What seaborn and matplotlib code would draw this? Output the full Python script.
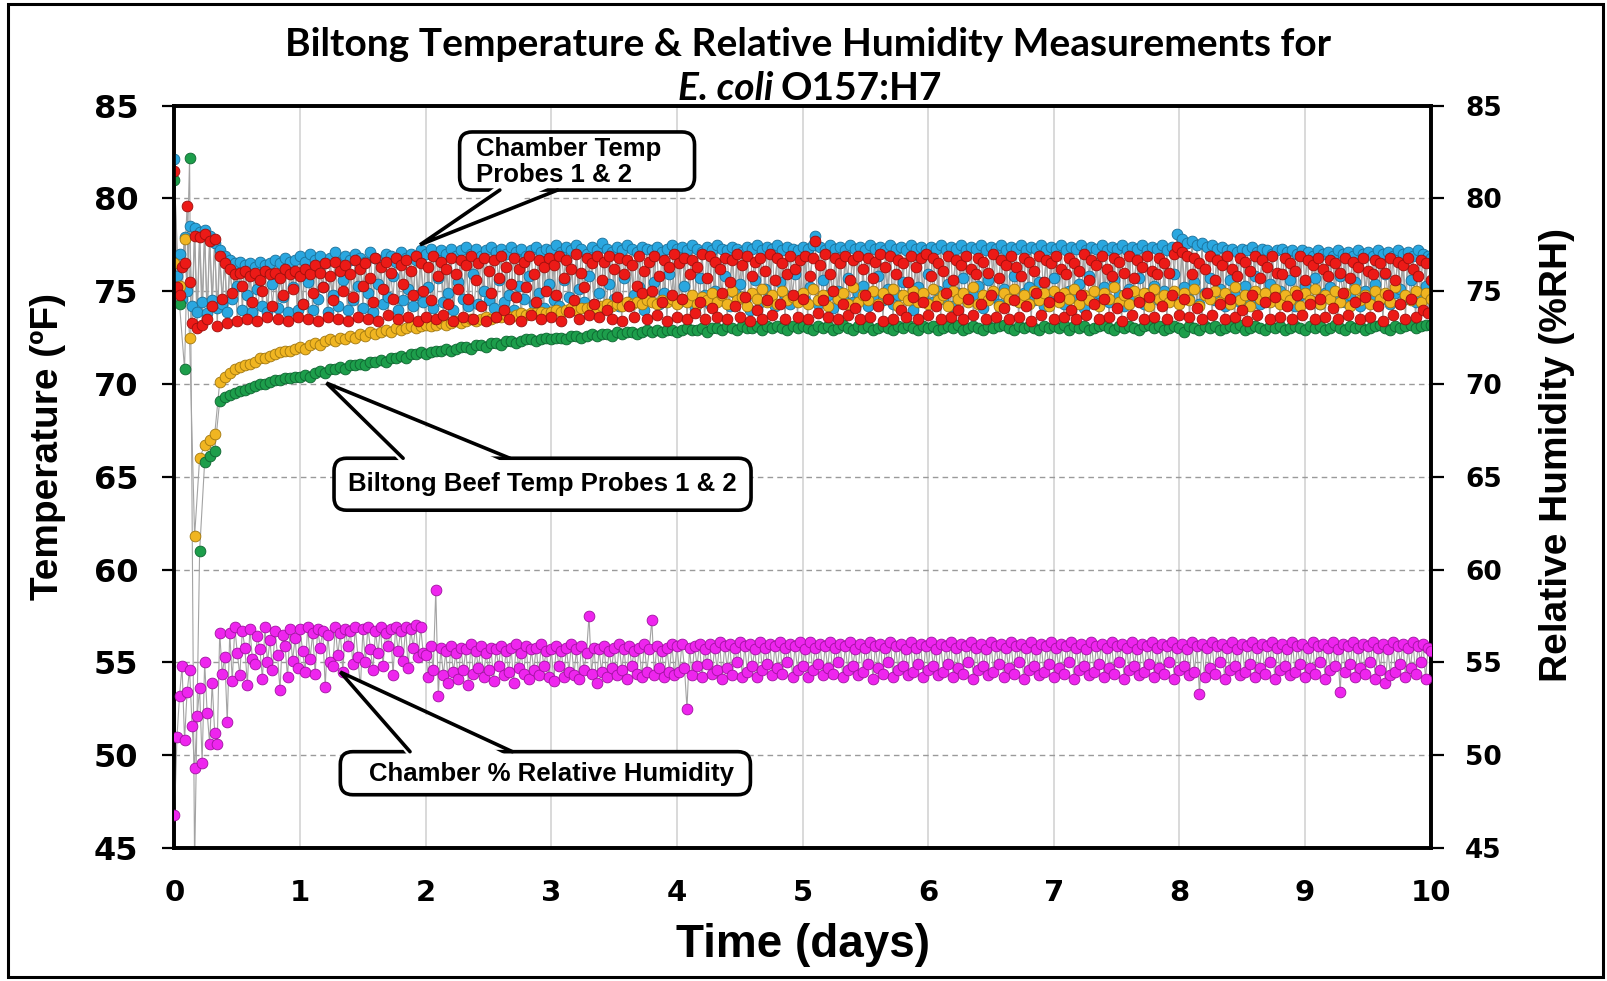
"""Biltong chamber/beef temperature and relative humidity over 10 days."""

import matplotlib

matplotlib.use("Agg")

import matplotlib.pyplot as plt  # noqa: E402
import numpy as np  # noqa: E402
import seaborn as sns  # noqa: E402
from matplotlib.lines import Line2D  # noqa: E402
from matplotlib.patches import FancyBboxPatch, Polygon, Rectangle  # noqa: E402

STEP_CHAMBER = 0.02
STEP_BEEF = 0.04

# Chamber temperature probe 1 (degF), one row = 0.2 day
chamber_probe_1 = [
    82.1, 75.8, 77.0, 74.6, 77.9, 75.0, 78.5, 74.2, 78.4, 73.9,
    78.2, 74.4, 78.3, 73.8, 78.0, 74.5, 77.6, 74.1, 77.2, 74.3,
    76.9, 73.9, 76.7, 74.6, 76.5, 75.3, 76.6, 74.0, 76.4, 74.8,
    76.5, 73.9, 76.3, 75.1, 76.6, 74.2, 76.4, 73.9, 76.5, 75.4,
    76.7, 74.1, 76.5, 74.7, 76.8, 73.9, 76.6, 75.2, 76.7, 74.0,
    76.9, 74.3, 76.6, 75.5, 77.0, 74.0, 76.7, 74.6, 76.9, 75.2,
    76.5, 73.9, 76.8, 74.8, 77.1, 74.2, 76.6, 75.6, 76.9, 74.0,
    76.7, 74.5, 77.0, 75.3, 76.8, 74.1, 76.6, 74.9, 77.1, 73.9,
    76.8, 75.4, 76.7, 74.3, 77.0, 74.7, 76.9, 75.8, 76.6, 74.0,
    77.1, 74.5, 76.8, 75.1, 77.0, 74.2, 76.7, 74.8, 77.2, 74.4,
    77.0, 75.2, 77.3, 74.1, 76.9, 75.7, 77.2, 74.4, 77.0, 74.9,
    77.3, 74.0, 76.9, 75.5, 77.2, 74.6, 77.4, 74.2, 77.0, 75.9,
    77.3, 74.3, 76.9, 75.0, 77.2, 74.5, 77.4, 74.1, 77.1, 75.6,
    77.3, 74.4, 77.0, 74.8, 77.4, 74.0, 77.1, 75.3, 77.3, 74.6,
    76.9, 75.8, 77.2, 74.3, 77.4, 74.9, 77.1, 74.1, 77.3, 75.4,
    77.2, 74.5, 77.5, 74.2, 77.1, 75.6, 77.4, 74.7, 77.2, 74.0,
    77.5, 75.1, 77.3, 74.4, 77.0, 75.8, 77.4, 74.3, 77.2, 74.9,
    77.6, 74.1, 77.3, 75.4, 77.1, 74.6, 77.4, 74.2, 77.2, 75.7,
    77.5, 74.4, 77.3, 74.8, 77.1, 75.2, 77.4, 74.0, 77.3, 74.7,
    77.2, 75.5, 77.4, 74.3, 77.1, 74.9, 77.3, 75.9, 77.5, 74.5,
    77.3, 74.4, 77.4, 75.3, 77.2, 74.6, 77.5, 74.1, 77.3, 75.7,
    77.1, 74.8, 77.4, 74.3, 77.2, 75.0, 77.5, 74.5, 77.3, 75.8,
    77.2, 74.2, 77.4, 74.9, 77.3, 75.4, 77.1, 74.6, 77.4, 74.0,
    77.3, 75.6, 77.5, 74.4, 77.2, 75.1, 77.4, 74.7, 77.3, 74.2,
    77.5, 75.5, 77.2, 74.8, 77.4, 74.3, 77.3, 75.9, 77.2, 74.6,
    77.4, 74.5, 77.3, 75.2, 77.5, 78.0, 74.3, 77.4, 75.6, 77.2,
    74.8, 77.5, 74.1, 77.3, 75.0, 77.4, 74.6, 77.2, 75.7, 77.5,
    74.4, 77.3, 74.9, 77.4, 75.3, 77.2, 74.2, 77.5, 74.7, 77.3,
    75.8, 77.4, 74.5, 77.2, 75.1, 77.5, 74.3, 77.3, 74.8, 77.4,
    75.5, 77.2, 74.6, 77.5, 74.0, 77.3, 75.2, 77.4, 74.7, 77.2,
    75.9, 77.4, 74.4, 77.3, 75.0, 77.5, 74.6, 77.2, 75.4, 77.4,
    74.2, 77.3, 74.9, 77.5, 75.7, 77.2, 74.5, 77.4, 74.8, 77.3,
    75.3, 77.5, 74.1, 77.2, 75.6, 77.4, 74.7, 77.3, 74.3, 77.5,
    75.1, 77.2, 74.6, 77.4, 75.8, 77.3, 74.4, 77.5, 74.9, 77.2,
    75.2, 77.4, 74.5, 77.3, 75.5, 77.5, 74.2, 77.2, 74.8, 77.4,
    75.7, 77.3, 74.6, 77.5, 74.3, 77.2, 75.0, 77.4, 74.7, 77.3,
    75.4, 77.5, 74.1, 77.2, 75.8, 77.4, 74.5, 77.3, 74.9, 77.5,
    75.2, 77.2, 74.4, 77.4, 75.6, 77.3, 74.8, 77.5, 74.2, 77.2,
    75.1, 77.4, 74.6, 77.3, 75.7, 77.5, 74.3, 77.2, 74.9, 77.4,
    75.3, 77.3, 74.5, 77.5, 75.0, 77.2, 74.7, 77.4, 75.9, 78.1,
    74.4, 77.8, 75.2, 77.6, 74.6, 77.7, 75.5, 77.5, 74.3, 77.6,
    74.9, 77.4, 75.7, 77.5, 74.5, 77.3, 75.1, 77.4, 74.2, 77.2,
    75.6, 77.3, 74.8, 77.1, 74.4, 77.3, 75.3, 77.2, 74.6, 77.4,
    75.8, 77.1, 74.3, 77.3, 74.9, 77.2, 75.4, 77.0, 74.5, 77.2,
    75.0, 77.3, 74.7, 77.1, 75.6, 77.2, 74.2, 77.0, 74.8, 77.2,
    75.3, 77.1, 74.5, 76.9, 75.7, 77.2, 74.3, 77.0, 74.9, 77.1,
    75.2, 76.9, 74.6, 77.2, 75.8, 77.0, 74.4, 77.1, 74.8, 76.9,
    75.5, 77.2, 74.2, 77.0, 75.0, 77.1, 74.7, 76.9, 75.4, 77.2,
    74.5, 77.0, 75.9, 77.1, 74.3, 76.9, 74.9, 77.2, 75.1, 77.0,
    74.6, 77.1, 75.6, 76.9, 74.4, 77.2, 74.8, 77.0, 75.3, 76.9,
    76.8,
]

# Chamber temperature probe 2 (degF), one row = 0.2 day
chamber_probe_2 = [
    81.5, 75.2, 74.8, 76.3, 76.5, 79.6, 75.5, 73.3, 78.0, 73.0,
    77.9, 73.2, 78.1, 73.5, 77.7, 74.2, 77.8, 73.1, 76.9, 74.6,
    76.5, 73.3, 76.2, 74.9, 75.9, 73.4, 76.0, 75.3, 76.1, 73.5,
    75.8, 74.4, 76.0, 73.4, 75.6, 75.0, 76.1, 73.6, 75.9, 74.2,
    76.0, 73.5, 75.7, 74.8, 76.2, 73.4, 75.9, 75.1, 76.1, 73.6,
    75.8, 74.3, 76.2, 73.5, 75.9, 74.9, 76.4, 73.4, 76.0, 75.2,
    76.5, 73.6, 75.8, 74.5, 76.6, 73.5, 76.1, 75.0, 76.4, 73.4,
    75.9, 74.7, 76.7, 73.6, 76.2, 75.3, 76.5, 73.5, 75.7, 74.4,
    76.8, 73.4, 76.3, 75.1, 76.6, 73.7, 76.0, 74.6, 76.8, 73.5,
    76.4, 75.4, 76.7, 73.6, 76.1, 74.8, 76.9, 73.4, 76.5, 75.0,
    73.6, 76.3, 74.5, 76.9, 73.5, 75.8, 76.6, 73.7, 76.2, 74.3,
    76.8, 73.4, 75.9, 75.1, 76.7, 73.6, 76.4, 74.6, 76.9, 73.5,
    75.6, 76.5, 74.2, 76.8, 73.4, 76.1, 74.9, 76.7, 73.6, 75.7,
    76.9, 74.0, 76.3, 73.5, 75.4, 76.8, 74.7, 76.2, 73.4, 76.6,
    75.2, 76.9, 73.7, 75.9, 74.4, 76.7, 73.5, 76.3, 75.0, 76.8,
    73.6, 76.4, 74.8, 76.9, 73.4, 75.7, 76.7, 73.9, 76.2, 74.5,
    77.0, 73.5, 76.0, 75.2, 76.8, 73.7, 76.5, 74.3, 76.9, 73.6,
    75.6, 76.6, 74.0, 76.9, 73.5, 76.2, 74.7, 76.8, 73.4, 75.9,
    76.7, 74.2, 76.4, 73.6, 75.3, 76.9, 74.9, 76.1, 73.5, 76.6,
    75.0, 76.9, 73.7, 75.8, 74.4, 76.7, 73.4, 76.3, 74.8, 77.0,
    73.6, 76.5, 74.6, 76.8, 73.5, 75.9, 76.7, 73.8, 76.3, 74.4,
    77.0, 73.5, 75.7, 76.9, 74.1, 76.6, 73.6, 76.2, 74.9, 76.8,
    73.5, 75.5, 76.7, 74.2, 77.0, 73.6, 76.4, 74.7, 76.9, 73.4,
    75.8, 76.6, 74.0, 76.8, 73.5, 76.1, 74.5, 77.0, 73.7, 75.6,
    76.8, 74.3, 76.5, 73.5, 75.9, 76.9, 74.8, 76.2, 73.6, 76.7,
    74.6, 76.9, 73.5, 75.8, 76.8, 77.7, 73.8, 76.4, 74.5, 77.0,
    73.6, 75.9, 75.0, 76.8, 73.5, 76.5, 74.3, 76.9, 73.7, 75.6,
    76.7, 74.1, 76.9, 73.5, 76.2, 74.8, 76.8, 73.6, 75.7, 76.6,
    74.2, 77.0, 73.4, 76.3, 74.6, 76.9, 73.5, 75.9, 76.7, 74.0,
    76.5, 73.6, 75.5, 76.9, 74.7, 76.3, 73.5, 76.8, 74.4, 77.0,
    73.7, 75.8, 76.8, 74.2, 76.5, 73.5, 76.1, 74.9, 76.9, 73.6,
    75.6, 76.7, 74.0, 76.4, 73.5, 76.9, 74.6, 76.2, 73.7, 75.9,
    76.8, 74.3, 76.6, 73.5, 76.0, 74.8, 77.0, 73.6, 75.7, 76.7,
    74.1, 76.4, 73.5, 76.9, 74.5, 76.3, 73.6, 75.8, 76.8, 74.2,
    76.6, 73.4, 76.1, 74.9, 76.9, 73.7, 75.5, 76.7, 74.4, 76.5,
    73.5, 76.9, 74.7, 76.2, 73.6, 75.9, 76.8, 74.0, 76.5, 73.5,
    76.1, 74.8, 77.0, 73.7, 75.6, 76.7, 74.3, 76.4, 73.5, 76.9,
    74.6, 76.2, 73.6, 75.8, 76.8, 74.1, 76.6, 73.4, 76.0, 74.9,
    76.9, 73.7, 75.7, 76.7, 74.4, 76.3, 73.5, 76.9, 74.7, 76.1,
    73.6, 75.9, 76.8, 74.2, 76.5, 73.5, 76.0, 74.8, 77.0, 77.4,
    73.7, 77.1, 74.6, 76.9, 73.6, 75.9, 76.8, 74.1, 76.5, 73.5,
    76.2, 74.9, 76.9, 73.7, 75.6, 76.7, 74.3, 76.4, 73.5, 76.9,
    74.6, 76.2, 73.6, 75.8, 76.8, 74.0, 76.6, 73.4, 76.1, 74.8,
    76.9, 73.7, 75.7, 76.7, 74.4, 76.3, 73.5, 76.9, 74.7, 76.0,
    73.6, 75.9, 76.8, 74.2, 76.5, 73.5, 76.1, 74.8, 76.9, 73.7,
    75.6, 76.7, 74.3, 76.4, 73.5, 76.8, 74.6, 76.2, 73.6, 75.8,
    76.7, 74.1, 76.5, 73.5, 76.0, 74.9, 76.8, 73.7, 75.7, 76.6,
    74.4, 76.3, 73.5, 76.8, 74.7, 76.1, 73.6, 75.9, 76.7, 74.2,
    76.5, 73.4, 76.0, 74.8, 76.8, 73.7, 75.6, 76.6, 74.3, 76.4,
    73.5, 76.8, 74.6, 76.2, 73.6, 75.8, 76.7, 74.0, 76.5, 73.8,
    75.6,
]

# Biltong beef temperature probe 1 (degF), one row = 1 day
beef_probe_1 = [
    76.5, 75.3, 77.8, 72.5, 61.8, 66.0, 66.7, 67.0, 67.3, 70.1, 70.4, 70.6, 70.8, 70.9, 71.0, 71.1, 71.2, 71.4, 71.4, 71.5, 71.6, 71.7, 71.8, 71.8, 71.9,
    72.0, 71.9, 72.1, 72.2, 72.1, 72.3, 72.4, 72.3, 72.5, 72.4, 72.6, 72.5, 72.7, 72.6, 72.8, 72.7, 72.8, 72.9, 72.8, 73.0, 72.9, 73.0, 73.1, 73.0, 73.1,
    73.2, 73.1, 73.2, 73.3, 73.2, 73.3, 73.4, 73.3, 73.4, 73.5, 73.4, 73.5, 73.6, 73.5, 73.6, 73.6, 73.7, 73.6, 73.7, 73.8, 73.7, 73.8, 73.8, 73.9, 73.8,
    73.9, 74.0, 73.9, 74.0, 74.1, 74.0, 74.1, 74.1, 74.2, 74.1, 74.2, 74.3, 74.2, 74.3, 74.2, 74.4, 74.3, 74.4, 74.3, 74.5, 74.4, 74.3, 74.5, 74.4, 74.6,
    74.3, 74.6, 74.4, 74.8, 74.3, 74.7, 74.5, 74.9, 74.4, 74.8, 74.3, 75.0, 74.5, 74.7, 74.2, 74.9, 74.6, 75.1, 74.4, 74.8, 74.3, 75.0, 74.5, 74.7, 74.4,
    74.9, 74.3, 75.1, 74.5, 74.8, 74.2, 75.0, 74.6, 74.9, 74.3, 75.2, 74.4, 74.8, 74.5, 75.0, 74.3, 74.9, 74.6, 75.1, 74.2, 74.8, 74.5, 75.0, 74.4, 74.9,
    74.3, 75.1, 74.5, 74.8, 74.2, 75.0, 74.6, 74.9, 74.4, 75.2, 74.3, 74.8, 74.5, 75.0, 74.2, 74.9, 74.6, 75.1, 74.4, 74.8, 74.3, 75.0, 74.5, 74.9, 74.2,
    75.0, 74.4, 74.9, 74.6, 75.1, 74.3, 74.8, 74.5, 75.0, 74.2, 74.9, 74.6, 75.2, 74.4, 74.8, 74.3, 75.0, 74.5, 74.9, 74.2, 75.1, 74.6, 74.8, 74.4, 75.0,
    74.3, 74.9, 74.5, 75.1, 74.2, 74.8, 74.6, 75.0, 74.4, 74.9, 74.3, 75.2, 74.5, 74.8, 74.2, 75.0, 74.6, 74.9, 74.4, 75.1, 74.3, 74.8, 74.5, 75.0, 74.2,
    74.9, 74.5, 75.1, 74.3, 74.8, 74.6, 75.0, 74.4, 74.9, 74.2, 75.1, 74.5, 74.8, 74.3, 75.0, 74.6, 74.9, 74.4, 75.2, 74.3, 74.8, 74.5, 75.0, 74.4, 74.9,
    74.6,
]

# Biltong beef temperature probe 2 (degF), one row = 1 day
beef_probe_2 = [
    81.0, 74.3, 70.8, 82.2, 44.0, 61.0, 65.8, 66.1, 66.4, 69.1, 69.3, 69.4, 69.5, 69.6, 69.7, 69.8, 69.9, 70.0, 70.0, 70.1, 70.2, 70.2, 70.3, 70.3, 70.4,
    70.4, 70.5, 70.4, 70.6, 70.7, 70.6, 70.8, 70.8, 70.9, 70.8, 71.0, 71.0, 71.1, 71.0, 71.2, 71.2, 71.3, 71.2, 71.4, 71.4, 71.5, 71.4, 71.6, 71.6, 71.7,
    71.6, 71.7, 71.8, 71.8, 71.9, 71.8, 71.9, 72.0, 72.0, 71.9, 72.1, 72.1, 72.0, 72.2, 72.2, 72.1, 72.3, 72.3, 72.2, 72.3, 72.4, 72.4, 72.3, 72.4, 72.5,
    72.4, 72.5, 72.5, 72.4, 72.6, 72.6, 72.5, 72.6, 72.7, 72.6, 72.7, 72.7, 72.6, 72.8, 72.7, 72.8, 72.8, 72.7, 72.8, 72.9, 72.8, 72.9, 72.8, 72.9, 72.9,
    72.8, 72.9, 73.0, 72.9, 72.9, 73.0, 72.8, 73.0, 73.0, 72.9, 73.1, 73.0, 72.9, 73.1, 73.0, 73.0, 73.1, 72.9, 73.1, 73.0, 73.1, 73.0, 72.9, 73.1, 73.0,
    73.1, 73.0, 72.9, 73.1, 73.0, 73.1, 72.9, 73.0, 73.2, 73.0, 72.9, 73.1, 73.0, 73.1, 72.9, 73.0, 73.1, 73.0, 72.9, 73.1, 73.0, 73.2, 73.0, 72.9, 73.1,
    73.0, 73.1, 72.9, 73.0, 73.1, 73.0, 73.2, 72.9, 73.0, 73.1, 73.0, 72.9, 73.1, 73.0, 73.1, 73.2, 73.0, 72.9, 73.1, 73.0, 73.1, 73.0, 72.9, 73.1, 73.0,
    73.1, 73.0, 73.2, 72.9, 73.1, 73.0, 73.1, 72.9, 73.0, 73.1, 73.2, 73.0, 72.9, 73.1, 73.0, 73.1, 73.0, 72.9, 73.1, 73.2, 73.0, 73.1, 72.9, 73.0, 73.1,
    73.0, 72.8, 73.1, 73.0, 72.9, 73.1, 73.0, 73.1, 72.9, 73.0, 73.1, 73.0, 73.2, 72.9, 73.0, 73.1, 73.0, 72.9, 73.1, 73.0, 73.1, 72.9, 73.0, 73.1, 73.0,
    72.9, 73.1, 73.0, 73.1, 72.9, 73.0, 73.2, 73.0, 72.9, 73.1, 73.0, 73.1, 72.9, 73.0, 73.1, 73.2, 73.0, 72.9, 73.1, 73.0, 73.1, 73.2, 73.0, 73.1, 73.2,
    73.2,
]

# Chamber relative humidity (%RH), one row = 0.2 day
chamber_rh = [
    46.8, 51.0, 53.2, 54.8, 50.8, 53.4, 54.6, 51.6, 49.3, 52.1,
    53.6, 49.6, 55.0, 52.3, 50.6, 53.9, 51.2, 50.6, 56.6, 54.4,
    55.3, 51.8, 56.6, 54.0, 56.9, 55.5, 54.3, 56.7, 55.8, 53.8,
    56.8, 55.2, 54.9, 56.4, 55.7, 54.1, 56.9, 55.0, 56.2, 54.6,
    56.7, 55.4, 53.5, 56.5, 55.9, 54.2, 56.8, 55.1, 56.3, 54.7,
    56.8, 55.6, 54.5, 56.9, 55.2, 56.6, 54.4, 56.8, 55.8, 56.7,
    53.7, 56.5, 55.0, 54.8, 56.9, 55.4, 56.6, 54.5, 56.8, 55.9,
    56.7, 54.9, 56.9, 55.3, 53.6, 56.8, 55.0, 56.9, 55.7, 54.6,
    56.7, 55.5, 56.9, 54.8, 56.6, 55.9, 56.8, 54.3, 56.9, 55.6,
    56.7, 55.1, 56.9, 54.7, 56.8, 55.8, 57.0, 55.3, 56.9, 55.5,
    55.4, 54.2, 55.9, 54.6, 58.9, 53.2, 55.8, 54.3, 55.6, 53.9,
    55.9, 54.5, 55.5, 54.1, 55.8, 54.6, 55.7, 53.8, 56.0, 54.4,
    55.6, 54.7, 55.9, 54.2, 55.5, 54.6, 55.8, 54.0, 55.7, 54.8,
    55.9, 54.3, 55.6, 54.5, 55.8, 53.9, 56.0, 54.7, 55.5, 54.4,
    55.9, 54.1, 55.7, 54.6, 55.8, 54.3, 56.0, 54.8, 55.6, 54.2,
    55.7, 54.0, 55.9, 54.8, 55.6, 54.2, 55.8, 54.5, 56.0, 54.3,
    55.7, 54.1, 55.9, 54.6, 55.5, 57.5, 54.4, 55.8, 53.9, 55.7,
    54.5, 55.9, 54.2, 55.6, 54.7, 55.8, 54.3, 56.0, 54.6, 55.7,
    54.1, 55.9, 54.8, 55.6, 54.4, 55.8, 54.2, 56.0, 54.5, 55.7,
    57.3, 54.3, 55.9, 54.7, 55.6, 54.2, 55.8, 54.5, 56.0, 54.3,
    55.9, 54.5, 56.0, 54.7, 52.5, 55.8, 54.3, 55.9, 54.8, 56.0,
    54.2, 55.7, 54.9, 56.0, 54.4, 55.8, 54.6, 56.1, 54.1, 55.9,
    54.7, 56.0, 54.3, 55.8, 55.0, 56.1, 54.2, 55.9, 54.5, 56.0,
    54.8, 55.7, 54.2, 56.1, 54.6, 55.8, 54.9, 56.0, 54.3, 55.9,
    54.7, 56.1, 54.4, 55.8, 55.0, 56.0, 54.2, 55.9, 54.6, 56.1,
    54.8, 55.7, 54.2, 56.1, 54.6, 55.8, 54.9, 56.0, 54.3, 55.9,
    54.7, 56.1, 54.4, 55.8, 55.0, 56.0, 54.2, 55.9, 54.6, 56.1,
    54.8, 55.7, 54.3, 56.0, 54.5, 55.8, 54.9, 56.1, 54.1, 55.9,
    54.7, 56.0, 54.4, 55.8, 55.0, 56.1, 54.2, 55.9, 54.6, 56.0,
    54.8, 55.7, 54.3, 56.1, 54.5, 55.8, 54.9, 56.0, 54.2, 55.9,
    54.6, 56.1, 54.8, 55.7, 54.3, 56.0, 54.5, 55.9, 54.9, 56.1,
    54.2, 55.8, 54.7, 56.0, 54.4, 55.9, 55.0, 56.1, 54.1, 55.8,
    54.6, 56.0, 54.8, 55.7, 54.3, 56.1, 54.5, 55.9, 54.9, 56.0,
    54.2, 55.8, 54.7, 56.1, 54.4, 55.9, 55.0, 56.0, 54.1, 55.8,
    54.6, 56.1, 54.8, 55.7, 54.3, 56.0, 54.5, 55.9, 54.9, 56.1,
    54.2, 55.8, 54.7, 56.0, 54.4, 55.9, 55.0, 56.1, 54.1, 55.8,
    54.6, 56.0, 54.8, 55.7, 54.3, 56.1, 54.5, 55.9, 54.9, 56.0,
    54.2, 55.8, 54.7, 56.1, 54.4, 55.9, 55.0, 56.0, 54.1, 55.8,
    54.6, 56.1, 54.8, 55.7, 54.3, 56.0, 54.5, 55.9, 54.9, 56.1,
    54.2, 55.8, 54.7, 56.0, 54.4, 55.9, 55.0, 56.1, 54.1, 55.8,
    54.6, 56.0, 54.8, 55.7, 54.3, 56.1, 54.5, 55.9, 53.3, 56.0,
    54.2, 55.8, 54.7, 56.1, 54.4, 55.9, 55.0, 56.0, 54.1, 55.8,
    54.6, 56.1, 54.8, 55.7, 54.3, 56.0, 54.5, 55.9, 54.9, 56.1,
    54.2, 55.8, 54.7, 56.0, 54.4, 55.9, 55.0, 56.1, 54.1, 55.8,
    54.6, 56.0, 54.8, 55.7, 54.3, 56.1, 54.5, 55.9, 54.9, 56.0,
    54.2, 55.8, 54.7, 56.1, 54.4, 55.9, 55.0, 56.0, 54.1, 55.8,
    54.6, 56.1, 54.8, 55.7, 53.4, 56.0, 54.5, 55.9, 54.9, 56.1,
    54.2, 55.8, 54.7, 56.0, 54.4, 55.9, 55.0, 56.1, 54.1, 55.8,
    54.6, 56.0, 53.9, 55.7, 54.3, 56.1, 54.5, 55.9, 54.9, 56.0,
    54.2, 55.8, 54.7, 56.1, 54.4, 55.9, 55.0, 56.0, 54.1, 55.8,
    55.6,
]

y_ticks = [45, 50, 55, 60, 65, 70, 75, 80, 85]
x_ticks = list(range(0, 11))

title_line_1 = "Biltong Temperature & Relative Humidity Measurements for"
title_italic = "E. coli"
title_rest = "O157:H7"

# (face, edge) colours per series
COLOURS = {
    "probe1": ("#2aa7e0", "#1b6f98"),
    "probe2": ("#ec1a17", "#9c0f0c"),
    "beef1": ("#f0b521", "#a07710"),
    "beef2": ("#1d9e4b", "#0d6530"),
    "rh": ("#ee25ee", "#9f129f"),
}
LINE_GREY = "#a3a3a3"
ARIAL = "Liberation Sans"

sns.set_theme(style="white")
plt.rcParams["font.family"] = ["DejaVu Sans"]
plt.rcParams["font.weight"] = "bold"
for key in ("text.color", "axes.labelcolor", "xtick.color", "ytick.color"):
    plt.rcParams[key] = "black"

W_PX, H_PX = 1608, 981
fig = plt.figure(figsize=(W_PX / 100, H_PX / 100), dpi=100)
ax_left, ax_right, ax_top, ax_bottom = 174.5, 1430.6, 105.6, 848.0
ax = fig.add_axes([
    ax_left / W_PX,
    1 - ax_bottom / H_PX,
    (ax_right - ax_left) / W_PX,
    (ax_bottom - ax_top) / H_PX,
])
ax2 = ax.twinx()


def draw_series(axis, values, step, key, zorder):
    face, edge = COLOURS[key]
    t = np.arange(len(values)) * step
    sns.lineplot(x=t, y=values, ax=axis, color=LINE_GREY, linewidth=0.8,
                 estimator=None, sort=False, zorder=1)
    sns.scatterplot(x=t, y=values, ax=axis, color=face, edgecolor=edge,
                    linewidth=0.6, s=60, zorder=zorder)


draw_series(ax, chamber_probe_1, STEP_CHAMBER, "probe1", 3)
draw_series(ax, beef_probe_1, STEP_BEEF, "beef1", 4)
draw_series(ax, beef_probe_2, STEP_BEEF, "beef2", 5)
draw_series(ax, chamber_probe_2, STEP_CHAMBER, "probe2", 6)
draw_series(ax2, chamber_rh, STEP_CHAMBER, "rh", 3)

for a in (ax, ax2):
    a.set_xlim(0, 10)
    a.set_ylim(45, 85)
    a.set_yticks(y_ticks)
    for side in ("left", "right", "top", "bottom"):
        a.spines[side].set_visible(True)
        a.spines[side].set_color("black")
        a.spines[side].set_linewidth(2.6)

ax.set_xticks(x_ticks)
ax.set_axisbelow(True)
ax.yaxis.grid(True, linestyle=(0, (4, 3)), color="#9a9a9a", linewidth=1.0)
ax.xaxis.grid(True, linestyle="-", color="#d9d9d9", linewidth=1.4)
ax2.grid(False)

ax.tick_params(axis="x", length=0, pad=22, labelsize=21)
ax.tick_params(axis="y", direction="out", length=9, width=1.6, pad=17,
               labelsize=23, left=True, color="black")
ax2.tick_params(axis="y", direction="out", length=9, width=1.6, pad=16,
                labelsize=19, right=True, color="black")

label_font = dict(family=ARIAL, weight="bold")
ax.set_xlabel("Time (days)", fontsize=33, va="center", **label_font)
ax.set_ylabel("Temperature (ºF)", fontsize=28, va="center", ha="center", **label_font)
ax2.set_ylabel("Relative Humidity (%RH)", fontsize=28, rotation=90,
               va="center", ha="center", **label_font)
ax.xaxis.set_label_coords(0.5, -0.131)
ax.yaxis.set_label_coords(-0.1007, 0.541)
ax2.yaxis.set_label_coords(1.1007, 0.529)

# Callouts drawn in data units of the shared 45-85 scale
px_per_day = (ax_right - ax_left) / 10
px_per_deg = (ax_bottom - ax_top) / 40
ASPECT = px_per_day / px_per_deg


def draw_callout(axis, box, base, tip, text, text_xy, ha="center"):
    x0, x1, y0, y1 = box
    bl, br, by = base
    axis.add_patch(FancyBboxPatch(
        (x0, y0), x1 - x0, y1 - y0,
        boxstyle="round,pad=0,rounding_size=0.1", mutation_aspect=ASPECT,
        facecolor="white", edgecolor="black", linewidth=2.6, zorder=20,
        clip_on=False,
    ))
    inward = 0.35 if tip[1] < by else -0.35
    axis.add_patch(Polygon(
        [(bl, by + inward), tip, (br, by + inward)], closed=True,
        facecolor="white", edgecolor="none", zorder=21, clip_on=False,
    ))
    axis.add_line(Line2D([bl, tip[0], br], [by, tip[1], by], color="black",
                         linewidth=2.6, zorder=22, solid_joinstyle="miter"))
    axis.text(text_xy[0], text_xy[1], text, ha=ha, va="center", fontsize=18.5,
              linespacing=1.1, zorder=23, **label_font)


draw_callout(ax2, (2.27, 4.14, 80.45, 83.58), (2.59, 3.05, 80.45), (1.955, 77.5),
             "Chamber Temp\nProbes 1 & 2", (2.40, 81.95), ha="left")
draw_callout(ax2, (1.27, 4.59, 63.2, 66.0), (1.82, 2.67, 66.0), (1.21, 70.05),
             "Biltong Beef Temp Probes 1 & 2", (2.93, 64.6))
draw_callout(ax2, (1.32, 4.585, 47.87, 50.19), (1.875, 2.69, 50.19), (1.32, 54.48),
             "Chamber % Relative Humidity", (3.0, 49.0))

# Title, second line mixes italic and upright text
title_font = dict(family="Lato", weight="bold", fontsize=28)
fig.text(808 / W_PX, 1 - 44 / H_PX, title_line_1, ha="center", va="center", **title_font)
fig.text(773 / W_PX, 1 - 88 / H_PX, title_italic, ha="right", va="center",
         style="italic", **title_font)
fig.text(781 / W_PX, 1 - 88 / H_PX, title_rest, ha="left", va="center", **title_font)

# Outer frame around the whole picture
fig.add_artist(Rectangle((8 / W_PX, 4 / H_PX), 1595 / W_PX, 973 / H_PX,
                         transform=fig.transFigure, fill=False,
                         edgecolor="black", linewidth=2.2))

fig.savefig("out.png", dpi=100)
